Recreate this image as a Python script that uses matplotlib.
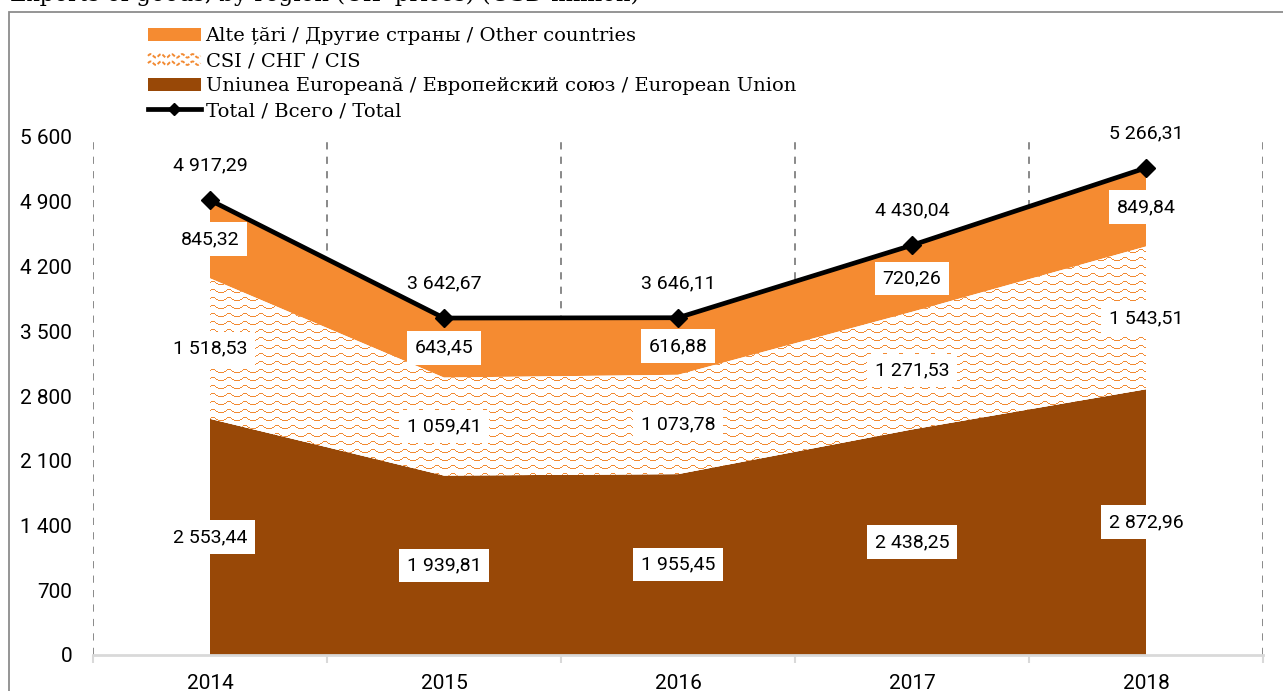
import numpy as np
import matplotlib
matplotlib.use('Agg')
import matplotlib.pyplot as plt
from matplotlib.lines import Line2D
from matplotlib.patches import Patch, Rectangle
from matplotlib.legend_handler import HandlerBase

# ---- datos ----
years = ['2014', '2015', '2016', '2017', '2018']
eu = [2553.44, 1939.81, 1955.45, 2438.25, 2872.96]
cis = [1518.53, 1059.41, 1073.78, 1271.53, 1543.51]
other = [845.32, 643.45, 616.88, 720.26, 849.84]
total = [4917.29, 3642.67, 3646.11, 4430.04, 5266.31]
yticks = [0, 700, 1400, 2100, 2800, 3500, 4200, 4900, 5600]

lbl_other = 'Alte țări / Другие страны / Other countries'
lbl_cis = 'CSI / СНГ / CIS'
lbl_eu = 'Uniunea Europeană / Европейский союз / European Union'
lbl_total = 'Total / Всего / Total'
title = 'Exports of goods, by region (CIF prices) (USD million)'

c_eu = '#984807'
c_other = '#F58B31'
c_cis = '#F28A32'

num_font = 'Roboto'
txt_font = 'DejaVu Serif'


def fmt(v, dec=2):
    s = f'{v:,.{dec}f}'
    return s.replace(',', ' ').replace('.', ',')


# patron de ondas (como el relleno de Excel)
wave_tile = ["......####......",
             ".....#....#.....",
             "...##......##...",
             "###..........###",
             "................",
             "................",
             "................",
             "................"]


class WaveHandler(HandlerBase):
    def create_artists(self, legend, orig_handle, xdescent, ydescent,
                       width, height, fontsize, trans):
        xs = np.linspace(0, width, 80)
        arts = []
        for k in (0.2, 0.75):
            ys = height * k + height * 0.13 * np.sin(xs / width * 2 * np.pi * 5)
            arts.append(Line2D(xs - xdescent, ys - ydescent, color=c_cis,
                               lw=1.4, ls=(0, (2, 1)), transform=trans))
        return arts


W, H = 1283, 691
fig = plt.figure(figsize=(W / 100, H / 100), dpi=100)
ax = fig.add_axes([93 / W, 36 / H, 1170 / W, 518 / H])

x = np.arange(len(years))
eu_a = np.array(eu)
cis_top = eu_a + np.array(cis)
tot_a = cis_top + np.array(other)

ax.fill_between(x, 0, eu_a, facecolor=c_eu, lw=0, zorder=1)
poly_cis = ax.fill_between(x, eu_a, cis_top, facecolor='white', lw=0, zorder=1)
ax.fill_between(x, cis_top, tot_a, facecolor=c_other, lw=0, zorder=1)

# textura de ondas recortada al area CSI
ny, nx = 518, 1170
tile = np.array([[ch == '#' for ch in row] for row in wave_tile])
mask = np.tile(tile, (ny // tile.shape[0] + 1, nx // tile.shape[1] + 1))[:ny, :nx]
img = np.ones((ny, nx, 3))
img[mask] = np.array(matplotlib.colors.to_rgb(c_cis))
im = ax.imshow(img, extent=(-0.5, 4.5, 0, 5600), origin='upper',
               interpolation='nearest', aspect='auto', zorder=1.5)
im.set_clip_path(poly_cis.get_paths()[0], ax.transData)

ax.plot(x, total, color='black', lw=3.4, marker='D', ms=9, zorder=4)

# etiquetas de datos
box = dict(boxstyle='square,pad=0.4', facecolor='white', edgecolor='none')
for i in range(len(years)):
    ax.text(x[i], eu[i] / 2, fmt(eu[i]), ha='center', va='center',
            fontsize=14, family=num_font, bbox=box, zorder=6)
    ax.text(x[i], eu_a[i] + cis[i] / 2, fmt(cis[i]), ha='center', va='center',
            fontsize=14, family=num_font, bbox=box, zorder=6)
    ax.text(x[i], cis_top[i] + other[i] / 2, fmt(other[i]), ha='center',
            va='center', fontsize=14, family=num_font, bbox=box, zorder=6)
    ax.annotate(fmt(total[i]), (x[i], total[i]), xytext=(0, 25),
                textcoords='offset points', ha='center', va='center',
                fontsize=14, family=num_font, zorder=6)

ax.set_xlim(-0.5, 4.5)
ax.set_ylim(0, 5600)
ax.set_yticks(yticks)
ax.set_yticklabels([fmt(v, 0) for v in yticks], family=num_font, fontsize=15)
ax.set_xticks(x)
ax.set_xticklabels(years, family=num_font, fontsize=15)
ax.set_xticks(np.arange(-0.5, 5, 1), minor=True)
ax.tick_params(axis='y', length=0, pad=15)
ax.tick_params(axis='x', which='major', length=0, pad=14)
ax.tick_params(axis='x', which='minor', length=6, width=1.5, color='#D9D9D9')
ax.grid(True, axis='x', which='minor', color='#808080', ls=(0, (4, 4)), lw=1.3)
ax.set_axisbelow(True)
for s in ['left', 'right', 'top']:
    ax.spines[s].set_visible(False)
ax.spines['bottom'].set_color('#D9D9D9')
ax.spines['bottom'].set_linewidth(2)

handles = [Patch(facecolor=c_other), Patch(facecolor='white'),
           Patch(facecolor=c_eu),
           Line2D([], [], color='black', lw=3.4, marker='D', ms=6)]
ax.legend(handles, [lbl_other, lbl_cis, lbl_eu, lbl_total],
          handler_map={handles[1]: WaveHandler()},
          loc='upper left', bbox_to_anchor=(148 / W, 1 - 27 / H),
          bbox_transform=fig.transFigure, frameon=False, borderpad=0,
          borderaxespad=0, handlelength=2.7, handleheight=0.68,
          handletextpad=0.26, labelspacing=0.36,
          prop={'family': txt_font, 'size': 14})

# marco y titulo (recortados por el borde de la imagen)
fig.patches.append(Rectangle((9 / W, -0.2), 2, 1.2 - 12 / H, fill=False,
                             edgecolor='#8C8C8C', lw=1.3,
                             transform=fig.transFigure, figure=fig))
fig.text(10 / W, 1 - 1.5 / H, title, ha='left', va='baseline',
         family=txt_font, fontsize=16.5)

fig.savefig('out.png', dpi=100)
